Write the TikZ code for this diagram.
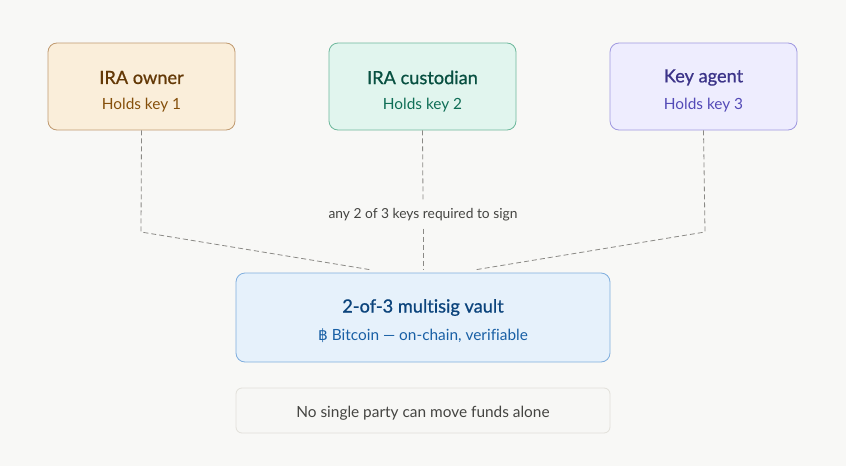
\documentclass[tikz,border=0pt]{standalone}
\usepackage{fontspec}
\setmainfont{Lato}[Ligatures=NoCommon]
\newfontfamily\titlefont{Lato}[Ligatures=NoCommon,FakeBold=0.8]
\newfontfamily\symfont{DejaVu Sans}
\definecolor{bg}{HTML}{F8F8F6}
\definecolor{ownF}{HTML}{FAEEDA}
\definecolor{ownD}{HTML}{C09A70}
\definecolor{ownT}{HTML}{633806}
\definecolor{ownS}{HTML}{854F0B}
\definecolor{cusF}{HTML}{E1F5EE}
\definecolor{cusD}{HTML}{6DB89C}
\definecolor{cusT}{HTML}{085041}
\definecolor{cusS}{HTML}{0F6E56}
\definecolor{ageF}{HTML}{EEEDFE}
\definecolor{ageD}{HTML}{9F98E0}
\definecolor{ageT}{HTML}{3C3489}
\definecolor{ageS}{HTML}{534AB7}
\definecolor{vauF}{HTML}{E6F1FB}
\definecolor{vauD}{HTML}{7FAEDE}
\definecolor{vauT}{HTML}{0C447C}
\definecolor{vauS}{HTML}{185FA5}
\definecolor{notF}{HTML}{F7F7F5}
\definecolor{notD}{HTML}{E2E0DA}
\definecolor{notT}{HTML}{444441}
\definecolor{lineC}{HTML}{8A8985}
\tikzset{
  box/.style={draw, rounded corners=9pt, line width=0.8pt, minimum width=187pt, minimum height=87pt, inner sep=0pt},
  bigbox/.style={draw, rounded corners=9pt, line width=0.8pt, minimum width=374pt, minimum height=89pt, inner sep=0pt},
  ttl/.style={font=\titlefont\fontsize{18.2}{22}\selectfont},
  sub/.style={font=\fontsize{15.4}{18}\selectfont},
  lbl/.style={font=\fontsize{13.8}{16}\selectfont, inner ysep=0pt, minimum height=28pt},
  conn/.style={draw=lineC, line width=0.8pt, dash pattern=on 5pt off 3pt},
}
\begin{document}
\begin{tikzpicture}[x=1pt,y=-1pt]
\fill[bg] (0,0) rectangle (846,466);
\useasboundingbox (0,0) rectangle (846,466);

\node[box, fill=ownF, draw=ownD] (own) at (141.5,86.5) {};
\node[ttl, text=ownT] (ownt) at (141.5,77.5) {IRA owner};
\node[sub, text=ownS] (owns) at (141.5,105) {Holds key 1};

\node[box, fill=cusF, draw=cusD] (cus) at (422.5,86.5) {};
\node[ttl, text=cusT] (cust) at (422.5,77.5) {IRA custodian};
\node[sub, text=cusS] (cuss) at (422.5,105) {Holds key 2};

\node[box, fill=ageF, draw=ageD] (age) at (703.5,86.5) {};
\node[ttl, text=ageT] (aget) at (703.5,77.5) {Key agent};
\node[sub, text=ageS] (ages) at (703.5,105) {Holds key 3};

\node[bigbox, fill=vauF, draw=vauD] (vau) at (423,317.5) {};
\node[ttl, text=vauT] (vaut) at (423,307.5) {2-of-3 multisig vault};
\node[sub, text=vauS] (vaus) at (423,336) {{\symfont ฿} Bitcoin — on-chain, verifiable};

\node[draw=notD, fill=notF, rounded corners=6pt, line width=0.8pt, minimum width=374pt, minimum height=45pt] (note) at (423,410.5) {};
\node[sub, text=notT] (nott) at (423,413.5) {No single party can move funds alone};

\node[lbl, text=notT] (lab) at (423,214.5) {any 2 of 3 keys required to sign};

\coordinate (lbend) at (141,232);
\coordinate (rbend) at (705,232);
\coordinate (lend) at (372,270);
\coordinate (rend) at (474,270);
\coordinate (mend) at (423,270);

\draw[conn] (own.south) -- (lbend) -- (lend);
\draw[conn] (age.south) -- (rbend) -- (rend);
\draw[conn] (cus.south) -- (lab.north);
\draw[conn] (lab.south) -- (mend);
\end{tikzpicture}
\end{document}
